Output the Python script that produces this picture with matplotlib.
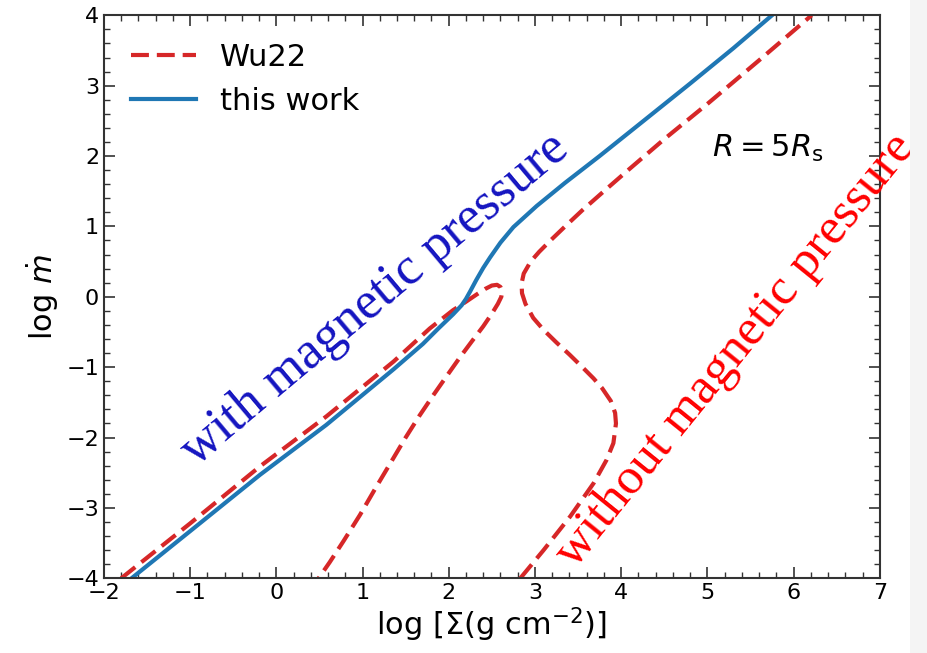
import matplotlib
matplotlib.use("Agg")
import matplotlib.pyplot as plt
from matplotlib.patches import Rectangle

# thermal equilibrium curves at R = 5 Rs, log(Sigma) vs log(mdot)
work_x = [-1.68, -1.0, -0.19, 0.58, 1.36, 1.70, 1.88, 2.05, 2.15, 2.20, 2.25, 2.32,
          2.40, 2.48, 2.60, 2.75, 3.02, 3.35, 3.75, 4.25, 4.80, 5.30, 5.75]
work_y = [-4.00, -3.33, -2.53, -1.82, -1.03, -0.67, -0.45, -0.25, -0.12, -0.03, 0.08, 0.24,
          0.41, 0.56, 0.77, 0.99, 1.29, 1.62, 2.00, 2.49, 3.03, 3.53, 4.00]

# Wu22: gas-pressure branch turning into the unstable branch
wu_lower_x = [-1.80, -1.0, -0.19, 0.58, 1.36, 1.78, 2.05, 2.20, 2.32, 2.42, 2.50, 2.56,
              2.60, 2.62, 2.61, 2.57, 2.50, 2.40, 2.27, 2.13, 1.98, 1.82, 1.66, 1.50,
              1.33, 1.15, 0.97, 0.78, 0.62, 0.49]
wu_lower_y = [-4.00, -3.22, -2.41, -1.70, -0.92, -0.45, -0.19, -0.07, 0.03, 0.11, 0.16, 0.17,
              0.14, 0.08, 0.00, -0.10, -0.24, -0.42, -0.63, -0.86, -1.12, -1.40, -1.69, -2.00,
              -2.35, -2.72, -3.10, -3.47, -3.77, -4.00]

# Wu22: second solution branch bending back into the slim-disc branch
wu_upper_x = [2.83, 3.10, 3.41, 3.68, 3.83, 3.91, 3.94, 3.93, 3.88, 3.78, 3.68, 3.55,
              3.40, 3.25, 3.10, 2.98, 2.89, 2.85, 2.845, 2.87, 2.95, 3.05, 3.18, 3.35,
              3.55, 3.80, 4.10, 4.50, 5.00, 5.60, 6.21]
wu_upper_y = [-4.00, -3.60, -3.12, -2.65, -2.32, -2.08, -1.80, -1.65, -1.48, -1.30, -1.16, -1.00,
              -0.82, -0.65, -0.47, -0.30, -0.10, 0.05, 0.19, 0.33, 0.50, 0.64, 0.80, 1.00,
              1.23, 1.50, 1.82, 2.24, 2.74, 3.36, 4.00]

red = "#d62728"
blue = "#1f77b4"

fig = plt.figure(figsize=(9.28, 6.53), dpi=100)
fig.patches.append(Rectangle((0.9806, 0), 0.0194, 1, transform=fig.transFigure,
                             facecolor="#f4f4f4", edgecolor="none", zorder=0))
ax = fig.add_axes([0.112, 0.1144, 0.836, 0.8622])

ax.plot(wu_lower_x, wu_lower_y, color=red, lw=3, ls="--", dashes=(4.3, 1.9), label="Wu22")
ax.plot(wu_upper_x, wu_upper_y, color=red, lw=3, ls="--", dashes=(4.3, 1.9))
ax.plot(work_x, work_y, color=blue, lw=3, label="this work")

ax.set_xlim(-2, 7)
ax.set_ylim(-4, 4)
ax.set_xlabel(r"$\log\,[\Sigma({\rm g\ cm^{-2}})]$", fontsize=22, labelpad=2)
ax.set_ylabel(r"$\log\,\dot{m}$", fontsize=22, labelpad=4)

ax.minorticks_on()
ax.tick_params(which="both", direction="in", top=True, right=True,
               labelsize=16, color="#333333")
ax.tick_params(which="major", length=8, width=1.2)
ax.tick_params(which="minor", length=4.5, width=1.0)
for sp in ax.spines.values():
    sp.set_color("#333333")
    sp.set_linewidth(1.5)

ax.legend(loc="upper left", fontsize=22, frameon=False, handlelength=2.1)

ax.text(5.05, 2.11, r"$R=5R_{\rm s}$", fontsize=22, va="center", ha="left")

ax.text(1.14, -0.04, "with magnetic pressure", color="#1414c0", fontsize=38,
        family="Liberation Serif", rotation=40, rotation_mode="anchor",
        ha="center", va="center")
ax.text(5.33, -0.77, "without magnetic pressure", color="red", fontsize=37,
        family="Liberation Serif", rotation=51, rotation_mode="anchor",
        ha="center", va="center", clip_on=False, zorder=5)

fig.savefig("out.png", dpi=100)
